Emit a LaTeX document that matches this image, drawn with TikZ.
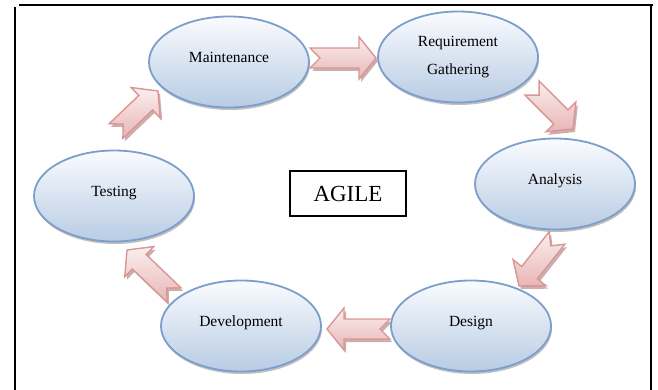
\documentclass[tikz,border=0pt]{standalone}
\usepackage{fontspec}
\setmainfont{Liberation Serif}
\usetikzlibrary{calc, shadows, shapes.geometric}

\definecolor{phaseline}{RGB}{124,158,204}
\definecolor{phasetop}{RGB}{250,251,254}
\definecolor{phasebot}{RGB}{184,204,228}
\definecolor{flowline}{RGB}{217,150,148}
\definecolor{flowtop}{RGB}{251,238,238}
\definecolor{flowbot}{RGB}{232,182,182}
\definecolor{flowshade}{RGB}{170,120,120}

\tikzset{
	phase/.style = {ellipse, draw = phaseline, line width = 1.8pt,
		top color = phasetop, bottom color = phasebot,
		minimum width = 160pt, minimum height = 91pt, inner sep = 0pt,
		font = \fontsize{15.5}{28}\selectfont, align = center,
		drop shadow = {shadow xshift = 1pt, shadow yshift = -2.5pt, fill = black!55, opacity = 0.45}},
	lift/.style = {text height = 8pt, text depth = 7pt},
	flow/.style = {draw = flowline, line width = 1.4pt, line join = miter,
		top color = flowtop, bottom color = flowbot,
		drop shadow = {shadow xshift = 2pt, shadow yshift = -3pt, fill = flowshade, opacity = 0.6}},
	frame/.style = {line width = 1.5pt}
}

% notched block arrow from #1 (tail) to #2 (tip)
\newcommand{\phasearrow}[2]{%
	\coordinate (hb) at ($(#2)!17pt!(#1)$);
	\draw [flow] ($(#1)!10pt!90:(#2)$) -- ($(hb)!10pt!90:(#2)$) -- ($(hb)!21pt!90:(#2)$) -- (#2)
		-- ($(hb)!21pt!-90:(#2)$) -- ($(hb)!10pt!-90:(#2)$) -- ($(#1)!10pt!-90:(#2)$)
		-- ($(#1)!10pt!(#2)$) -- cycle;
}

\begin{document}
\begin{tikzpicture}[x = 1pt, y = -1pt]
		\useasboundingbox (0, 0) rectangle (658, 390);
		%%%%%%%%%%%%%
		\draw [frame] (15, 7) to (15, 390);
		\draw [frame] (19, 5) to (653, 5);
		\draw [frame] (651, 5) to (651, 390);
		%%%%%%%%%%%%%
		\node [phase, lift] (mnt) at (229, 62) {Maintenance};
		\node [phase] (req) at (458, 57) {Requirement\\Gathering};
		\node [phase, lift] (ana) at (555, 184) {Analysis};
		\node [phase, lift] (des) at (471, 326) {Design};
		\node [phase, lift] (dev) at (241, 326) {Development};
		\node [phase, lift] (tst) at (114, 196) {Testing};
		\node [draw, line width = 1.3pt, minimum width = 116pt, minimum height = 45pt,
			font = \fontsize{23}{26}\selectfont] (agile) at (348, 193.5) {AGILE};
		%%%%%%%%%%%%%
		\coordinate (mr1) at (310, 58);   \coordinate (mr2) at (376, 58);
		\coordinate (ra1) at (532, 88);   \coordinate (ra2) at (573, 129);
		\coordinate (ad1) at (557, 238);  \coordinate (ad2) at (519, 286);
		\coordinate (dd1) at (390, 329);  \coordinate (dd2) at (327, 329);
		\coordinate (dt1) at (174, 295);  \coordinate (dt2) at (127, 250);
		\coordinate (tm1) at (116, 131);  \coordinate (tm2) at (158, 91);
		%%%%%%%%%%%%%
		\phasearrow{mr1}{mr2}
		\phasearrow{ra1}{ra2}
		\phasearrow{ad1}{ad2}
		\phasearrow{dd1}{dd2}
		\phasearrow{dt1}{dt2}
		\phasearrow{tm1}{tm2}
\end{tikzpicture}
\end{document}
